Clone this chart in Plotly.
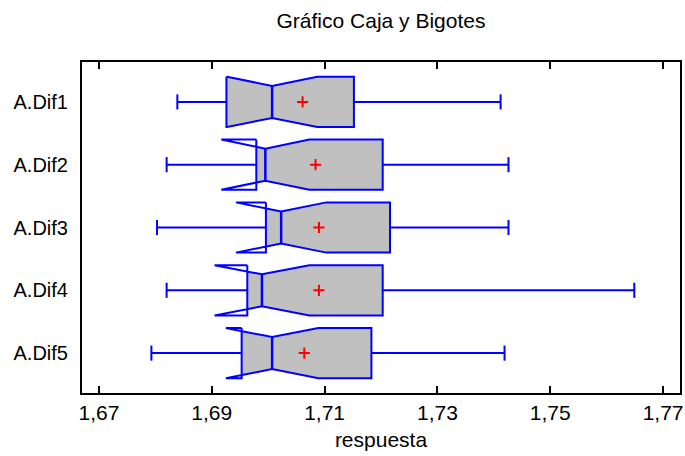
import plotly.graph_objects as go

# ---- data ----
categories = ["A.Dif1", "A.Dif2", "A.Dif3", "A.Dif4", "A.Dif5"]
lower_whisker = [1.6839, 1.6820, 1.6803, 1.6820, 1.6793]
q1 = [1.6926, 1.6979, 1.6996, 1.6963, 1.6953]
median = [1.7007, 1.6995, 1.7023, 1.6989, 1.7007]
q3 = [1.7152, 1.7203, 1.7216, 1.7203, 1.7183]
upper_whisker = [1.7412, 1.7426, 1.7426, 1.7649, 1.7419]
mean = [1.7061, 1.7084, 1.7090, 1.7090, 1.7064]
notch_half = [0.0080, 0.0078, 0.0080, 0.0084, 0.0082]

x_ticks = [1.67, 1.69, 1.71, 1.73, 1.75, 1.77]

# ---- geometry (in category units) ----
H = 0.40   # half box height
h = 0.255  # half height at notch
CAP = 0.12

fill_x, fill_y = [], []
out_x, out_y = [], []
med_x, med_y = [], []
wh_x, wh_y = [], []

for i in range(len(categories)):
    c = i
    a, m, b = q1[i], median[i], q3[i]
    ln, un = m - notch_half[i], m + notch_half[i]

    # gray fill polygon (clipped to the box limits)
    if ln >= a:
        left_pts = [(a, H), (ln, H)]
    else:
        yy = H + (h - H) * (a - ln) / (m - ln)
        left_pts = [(a, yy)]
    if un <= b:
        right_pts = [(un, H), (b, H)]
    else:
        yy = H + (h - H) * (un - b) / (un - m)
        right_pts = [(b, yy)]
    top = left_pts + [(m, h)] + right_pts
    poly = top + [(x, -y) for (x, y) in reversed(top)]
    fill_x += [p[0] for p in poly] + [poly[0][0], None]
    fill_y += [c + p[1] for p in poly] + [c + poly[0][1], None]

    # blue outline (with flares)
    path = [(a, -H), (a, H), (ln, H), (m, h), (un, H), (b, H),
            (b, -H), (un, -H), (m, -h), (ln, -H), (a, -H)]
    out_x += [p[0] for p in path] + [None]
    out_y += [c + p[1] for p in path] + [None]

    med_x += [m, m, None]
    med_y += [c - h, c + h, None]

    lw, uw = lower_whisker[i], upper_whisker[i]
    wh_x += [lw, a, None, b, uw, None, lw, lw, None, uw, uw, None]
    wh_y += [c, c, None, c, c, None, c - CAP, c + CAP, None, c - CAP, c + CAP, None]

fig = go.Figure()
fig.add_trace(go.Scatter(x=fill_x, y=fill_y, mode="lines", fill="toself",
                         fillcolor="#C0C0C0", line=dict(width=0),
                         hoverinfo="skip", showlegend=False))
fig.add_trace(go.Scatter(x=out_x, y=out_y, mode="lines",
                         line=dict(color="#0000FF", width=2),
                         hoverinfo="skip", showlegend=False))
fig.add_trace(go.Scatter(x=med_x, y=med_y, mode="lines",
                         line=dict(color="#0000FF", width=2.5),
                         hoverinfo="skip", showlegend=False))
fig.add_trace(go.Scatter(x=wh_x, y=wh_y, mode="lines",
                         line=dict(color="#0000FF", width=2),
                         hoverinfo="skip", showlegend=False))
fig.add_trace(go.Scatter(x=mean, y=list(range(len(categories))), mode="markers",
                         marker=dict(symbol="cross-thin", size=8, color="red",
                                     line=dict(color="red", width=2)),
                         showlegend=False))

FONT = "Liberation Sans, Arial, sans-serif"
FS = 21
fig.update_layout(
    width=685, height=456,
    margin=dict(l=82, r=5, t=62, b=63),
    paper_bgcolor="white", plot_bgcolor="white",
    separators=",.",
    font=dict(family=FONT, size=FS, color="black"),
    title=dict(text="Gráfico Caja y Bigotes", x=0.5, xanchor="center",
               xref="paper",
               y=1 - 21 / 456, yanchor="middle", yref="container",
               font=dict(size=FS, color="black")),
    showlegend=False,
)
fig.update_xaxes(range=[1.667, 1.773], tickvals=x_ticks, tickformat=".2f",
                 showgrid=False, zeroline=False, automargin=False,
                 showline=True, linecolor="black", linewidth=2, mirror="ticks",
                 ticks="inside", ticklen=7, tickwidth=1.5, tickcolor="black",
                 title=dict(text="respuesta", standoff=9, font=dict(size=FS)),
                 tickfont=dict(size=FS))
fig.update_yaxes(range=[len(categories) - 1 + 0.635, -0.635],
                 tickvals=list(range(len(categories))), ticktext=categories,
                 showgrid=False, zeroline=False, automargin=False,
                 showline=True, linecolor="black", linewidth=2, mirror=True,
                 ticks="", tickfont=dict(size=20), ticklabelstandoff=8)

fig.write_html("out.html", config={"displayModeBar": False},
               post_script="document.body.style.margin='0';document.body.style.padding='0';")
